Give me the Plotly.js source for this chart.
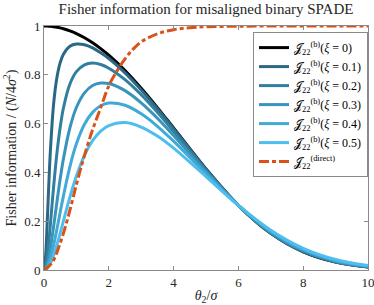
<!DOCTYPE html>
<html>
<head>
<meta charset="utf-8">
<script src="https://cdn.plot.ly/plotly-3.0.1.min.js"></script>
<style>html,body{margin:0;padding:0;background:#fff;}#chart{width:374px;height:305px;}</style>
</head>
<body>
<div id="chart"></div>
<script>
// separation theta_2 / sigma
const theta = [0, 0.05, 0.1, 0.15, 0.2, 0.3, 0.4, 0.5, 0.6, 0.8, 1.0, 1.25, 1.5, 1.75, 2.0, 2.5, 3.0, 3.5, 4.0, 5, 6, 7, 8, 9, 10];
const xi0  = [1, 1.0, 0.9997, 0.9993, 0.9988, 0.9972, 0.995, 0.9922, 0.9888, 0.9801, 0.9691, 0.952, 0.9313, 0.9073, 0.8802, 0.8174, 0.7449, 0.6655, 0.582, 0.4144, 0.2651, 0.1502, 0.0746, 0.0322, 0.0121];
const xi01 = [0, 0.058, 0.198, 0.356, 0.495, 0.685, 0.790, 0.850, 0.884, 0.917, 0.926, 0.923, 0.910, 0.890, 0.867, 0.808, 0.738, 0.661, 0.579, 0.413, 0.265, 0.151, 0.075, 0.033, 0.012];
const xi02 = [0, 0.0147, 0.0563, 0.118, 0.192, 0.346, 0.480, 0.585, 0.664, 0.762, 0.813, 0.841, 0.848, 0.842, 0.827, 0.780, 0.718, 0.646, 0.568, 0.409, 0.265, 0.152, 0.077, 0.034, 0.013];
const xi03 = [0, 0.0062, 0.0244, 0.0532, 0.0905, 0.1815, 0.280, 0.374, 0.456, 0.583, 0.666, 0.726, 0.756, 0.766, 0.764, 0.735, 0.685, 0.622, 0.551, 0.4025, 0.265, 0.155, 0.080, 0.036, 0.014];
const xi04 = [0, 0.0032, 0.0128, 0.0282, 0.049, 0.103, 0.168, 0.237, 0.304, 0.424, 0.517, 0.597, 0.646, 0.673, 0.684, 0.675, 0.640, 0.589, 0.528, 0.394, 0.265, 0.159, 0.084, 0.039, 0.016];
const xi05 = [0, 0.0019, 0.0074, 0.0164, 0.0286, 0.0618, 0.104, 0.151, 0.201, 0.299, 0.385, 0.470, 0.530, 0.569, 0.592, 0.604, 0.586, 0.549, 0.4995, 0.383, 0.2645, 0.163, 0.089, 0.043, 0.018];
// direct imaging
const thetaD = [0, 0.25, 0.5, 0.75, 1.0, 1.25, 1.5, 1.75, 2.0, 2.25, 2.5, 2.75, 3.0, 3.5, 4.0, 4.5, 5, 6, 7, 8, 9, 10];
const direct = [0, 0.03, 0.11, 0.22, 0.35, 0.47, 0.575, 0.665, 0.755, 0.815, 0.865, 0.905, 0.935, 0.968, 0.985, 0.993, 0.997, 0.999, 1, 1, 1, 1];

const xiLabels = ['0', '0.1', '0.2', '0.3', '0.4', '0.5'];
const xiSeries = [xi0, xi01, xi02, xi03, xi04, xi05];
const xiColors = ['#000000', '#2b6885', '#317f9f', '#3894ba', '#41a9d5', '#4dbeee'];

const J = '\uD835\uDCA5';
const traces = xiSeries.map((ys, i) => ({
  x: theta, y: ys, type: 'scatter', mode: 'lines',
  line: {color: xiColors[i], width: 3, shape: 'spline', smoothing: 1},
  name: J + '<sub>22</sub><sup>(b)</sup>(<i>\u03BE</i> = ' + xiLabels[i] + ')'
}));
traces.push({
  x: thetaD, y: direct, type: 'scatter', mode: 'lines',
  line: {color: '#d95319', width: 3, dash: '10px,3px,4px,3px', shape: 'spline', smoothing: 1},
  name: J + '<sub>22</sub><sup>(direct)</sup>'
});

const serif = '"Liberation Serif", "DejaVu Serif", serif';
const axisCommon = {
  showline: true, linecolor: '#8a8a8a', linewidth: 1, mirror: 'ticks',
  ticks: 'inside', ticklen: 4, tickcolor: '#8a8a8a', tickwidth: 1,
  showgrid: false, zeroline: false, ticklabeloverflow: 'allow',
  tickfont: {family: serif, size: 13, color: '#262626'}
};
const layout = {
  width: 374, height: 305,
  margin: {l: 44, r: 6, t: 26, b: 35},
  paper_bgcolor: '#fff', plot_bgcolor: '#fff',
  font: {family: serif, color: '#262626'},
  title: {text: 'Fisher information for misaligned binary SPADE', font: {family: serif, size: 15, color: '#262626'},
          xref: 'paper', x: 0.5, xanchor: 'center', yref: 'container', y: 0.97, yanchor: 'middle'},
  xaxis: Object.assign({}, axisCommon, {range: [0, 10], tickvals: [0, 2, 4, 6, 8, 10], ticktext: ['0', '2', '4', '6', '8', '10'],
    title: {text: '<i>\u03B8</i><sub>2</sub>/<i>\u03C3</i>', font: {family: serif, size: 14, color: '#262626'}, standoff: 4}}),
  yaxis: Object.assign({}, axisCommon, {range: [0, 1], tickvals: [0, 0.2, 0.4, 0.6, 0.8, 1], ticktext: ['0', '0.2', '0.4', '0.6', '0.8', '1'],
    title: {text: 'Fisher information / (<i>N</i>/4<i>\u03C3</i><sup>2</sup>)', font: {family: serif, size: 14, color: '#262626'}, standoff: 4}}),
  legend: {x: 1, xanchor: 'right', y: 0.975, yanchor: 'top', bgcolor: '#fff', bordercolor: '#8a8a8a', borderwidth: 1,
    font: {family: serif, size: 12, color: '#000'}},
  showlegend: true
};
Plotly.newPlot('chart', traces, layout, {staticPlot: true, displayModeBar: false});
</script>
</body>
</html>
